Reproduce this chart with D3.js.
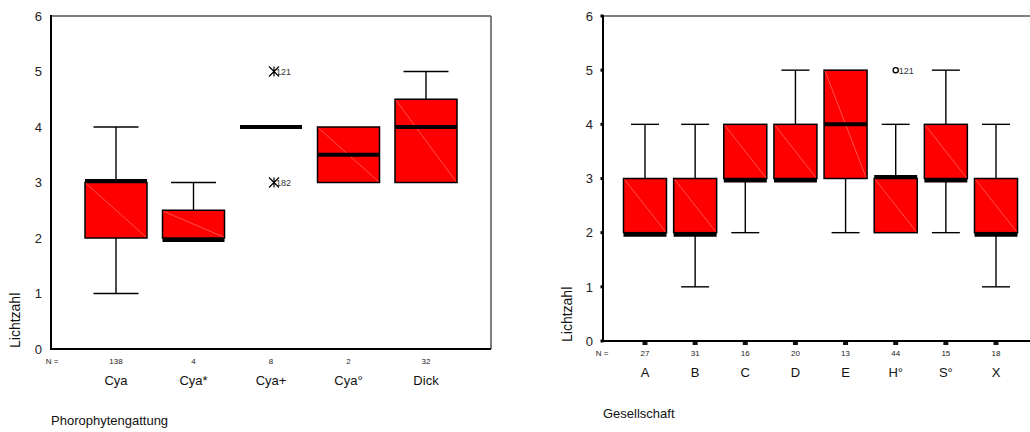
<!DOCTYPE html>
<html><head><meta charset="utf-8">
<script src="https://cdn.jsdelivr.net/npm/d3@7"></script>
<style>body{margin:0;background:#fff}svg{display:block;font-family:"Liberation Sans",Arial,sans-serif}</style>
</head><body><svg id="c" width="1030" height="432"></svg>
<script>
// ---- Left chart data ----
const leftCategories = ["Cya","Cya*","Cya+","Cya°","Dick"];
const leftN      = [138, 4, 8, 2, 32];
const leftLow    = [1, 2, 4, 3, 3];
const leftQ1     = [2, 2, 4, 3, 3];
const leftMedian = [3, 2, 4, 3.5, 4];
const leftQ3     = [3, 2.5, 4, 4, 4.5];
const leftHigh   = [4, 3, 4, 4, 5];
const leftOutliers = [
  {cat:"Cya+", value:5, label:"121", type:"star"},
  {cat:"Cya+", value:3, label:"182", type:"star"}
];
// ---- Right chart data ----
const rightCategories = ["A","B","C","D","E","H°","S°","X"];
const rightN      = [27, 31, 16, 20, 13, 44, 15, 18];
const rightLow    = [2, 1, 2, 3, 2, 2, 2, 1];
const rightQ1     = [2, 2, 3, 3, 3, 2, 3, 2];
const rightMedian = [2, 2, 3, 3, 4, 3, 3, 2];
const rightQ3     = [3, 3, 4, 4, 5, 3, 4, 3];
const rightHigh   = [4, 4, 4, 5, 5, 4, 5, 4];
const rightOutliers = [
  {cat:"H°", value:5, label:"121", type:"circle"}
];
const yTicks = [0,1,2,3,4,5,6];

const svg = d3.select("#c");

function drawChart(o){
  const g = svg.append("g");
  const y = d3.scaleLinear().domain([0,6]).range([o.bottom, o.top]);
  const x = d3.scalePoint().domain(o.cats).range(o.xr);
  const rows = o.cats.map((c,i)=>({c, n:o.n[i], lo:o.low[i], q1:o.q1[i], med:o.med[i], q3:o.q3[i], hi:o.high[i]}));

  g.append("line").attr("x1",o.left).attr("x2",o.right).attr("y1",o.top).attr("y2",o.top)
    .attr("stroke","#555").attr("stroke-width",1.5);
  if(o.rightEdge) g.append("line").attr("x1",o.right).attr("x2",o.right).attr("y1",o.top).attr("y2",o.bottom)
    .attr("stroke","#555").attr("stroke-width",1.5);

  const ya = g.append("g").attr("transform",`translate(${o.left},0)`)
    .call(d3.axisLeft(y).tickValues(yTicks).tickSize(0).tickPadding(o.tickPad).tickFormat(d3.format("d")));
  ya.select(".domain").remove();
  ya.selectAll("text").attr("font-size",13).attr("fill","#222").attr("font-family","Liberation Sans, Arial, sans-serif");
  if(o.tickMarks){
    g.selectAll(".ytm").data(yTicks).join("rect").attr("x",o.left-2.5).attr("y",d=>y(d)-1.5).attr("width",3).attr("height",3).attr("fill","#000");
    g.selectAll(".xtm").data(o.cats).join("rect").attr("x",d=>x(d)-2.5).attr("y",o.bottom).attr("width",5).attr("height",4).attr("fill","#111");
  }

  const wg = g.append("g").attr("stroke","#000").attr("stroke-width",1.4);
  rows.forEach(r=>{
    const cx = x(r.c);
    if(r.hi>r.q3){
      wg.append("line").attr("x1",cx).attr("x2",cx).attr("y1",y(r.hi)).attr("y2",y(r.q3));
      wg.append("line").attr("x1",cx-o.cap/2).attr("x2",cx+o.cap/2).attr("y1",y(r.hi)).attr("y2",y(r.hi));
    }
    if(r.lo<r.q1){
      wg.append("line").attr("x1",cx).attr("x2",cx).attr("y1",y(r.q1)).attr("y2",y(r.lo));
      wg.append("line").attr("x1",cx-o.cap/2).attr("x2",cx+o.cap/2).attr("y1",y(r.lo)).attr("y2",y(r.lo));
    }
  });
  rows.forEach(r=>{
    const cx = x(r.c), x0 = cx-o.bw/2, x1 = cx+o.bw/2;
    if(r.q3>r.q1){
      g.append("rect").attr("x",x0).attr("y",y(r.q3)).attr("width",o.bw).attr("height",y(r.q1)-y(r.q3))
        .attr("fill","#ff0000").attr("stroke","#000").attr("stroke-width",1.5);
      g.append("line").attr("x1",x0+1).attr("y1",y(r.q3)+1).attr("x2",x1-1).attr("y2",y(r.q1)-1)
        .attr("stroke","#ffa0a0").attr("stroke-width",0.5);
    }
    let my = y(r.med);
    if(r.q3>r.q1){ if(r.med===r.q1) my+=2; else if(r.med===r.q3) my-=1.5; }
    g.append("line").attr("x1",x0).attr("x2",x1).attr("y1",my).attr("y2",my)
      .attr("stroke","#000").attr("stroke-width",4);
  });
  o.outliers.forEach(d=>{
    const cx = x(d.cat)+o.outDx, cy = y(d.value);
    if(d.type==="star"){
      const s=5;
      const p=`M${cx-s},${cy-s}L${cx+s},${cy+s}M${cx+s},${cy-s}L${cx-s},${cy+s}M${cx},${cy-s}L${cx},${cy+s}`;
      g.append("path").attr("d",p).attr("stroke","#000").attr("stroke-width",1.2).attr("fill","none");
      g.append("text").attr("x",cx+2).attr("y",cy+3.5).attr("font-size",9).attr("fill","#333").text(d.label);
    } else {
      g.append("circle").attr("cx",cx).attr("cy",cy).attr("r",2.6).attr("fill","#fff").attr("stroke","#000").attr("stroke-width",1.3);
      g.append("text").attr("x",cx+3).attr("y",cy+3.5).attr("font-size",9).attr("fill","#333").text(d.label);
    }
  });
  g.append("line").attr("x1",o.left).attr("x2",o.left).attr("y1",o.top-1).attr("y2",o.bottom+1).attr("stroke","#000").attr("stroke-width",2);
  g.append("line").attr("x1",o.left-1).attr("x2",o.right).attr("y1",o.bottom).attr("y2",o.bottom).attr("stroke","#000").attr("stroke-width",2);

  g.append("text").attr("x",o.nLabelX).attr("y",o.nY).attr("font-size",8).attr("text-anchor","middle").attr("fill","#222").text("N =");
  g.selectAll(".nl").data(rows).join("text").attr("x",d=>x(d.c)).attr("y",o.nY).attr("font-size",8)
    .attr("text-anchor","middle").attr("fill","#222").text(d=>d.n);
  g.selectAll(".cl").data(rows).join("text").attr("x",d=>x(d.c)).attr("y",o.catY).attr("font-size",13)
    .attr("text-anchor","middle").attr("fill","#111").text(d=>d.c);
  g.append("text").attr("x",o.left).attr("y",o.titleY).attr("font-size",13).attr("fill","#111").text(o.title);
  g.append("text").attr("transform",`translate(${o.ylabX},${o.ylabY}) rotate(-90)`).attr("font-size",14).attr("fill","#111").text("Lichtzahl");
}

drawChart({cats:leftCategories,n:leftN,low:leftLow,q1:leftQ1,med:leftMedian,q3:leftQ3,high:leftHigh,outliers:leftOutliers,
  left:51,right:491,top:16,bottom:349,xr:[116,426],bw:62,cap:45,rightEdge:true,tickMarks:false,tickPad:9,
  outDx:3,nLabelX:52,nY:364,catY:385,titleY:425,title:"Phorophytengattung",ylabX:20,ylabY:348});
drawChart({cats:rightCategories,n:rightN,low:rightLow,q1:rightQ1,med:rightMedian,q3:rightQ3,high:rightHigh,outliers:rightOutliers,
  left:603,right:1030,top:16,bottom:341,xr:[645,996],bw:43,cap:28,rightEdge:false,tickMarks:true,tickPad:10,
  outDx:0,nLabelX:602,nY:356,catY:377,titleY:418,title:"Gesellschaft",ylabX:572,ylabY:342});
</script></body></html>
